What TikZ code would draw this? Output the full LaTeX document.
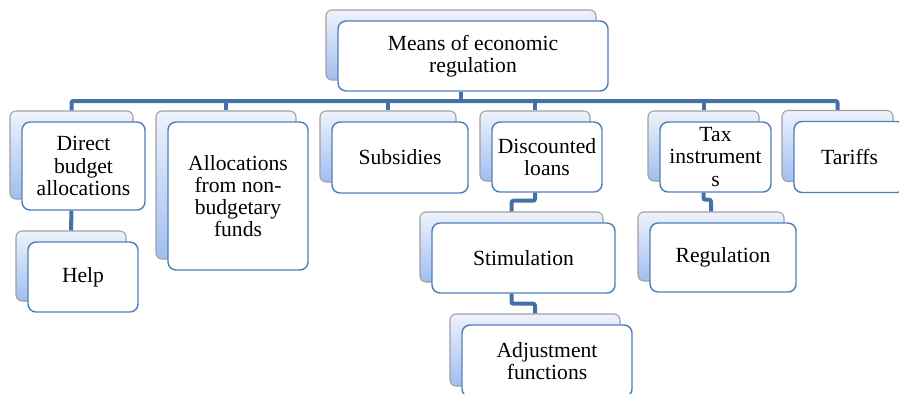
\documentclass[tikz,border=0pt]{standalone}
\usepackage{fontspec}
\setmainfont{Liberation Serif}
\newfontfamily\boxfont{Liberation Serif}
\usetikzlibrary{calc}
\definecolor{frameblue}{RGB}{79,129,189}
\definecolor{linkblue}{RGB}{68,112,166}
\definecolor{backtop}{RGB}{238,243,252}
\definecolor{backbot}{RGB}{160,190,240}
\begin{document}
\begin{tikzpicture}[x=0.75pt, y=-0.75pt,
  every node/.style={font=\boxfont\fontsize{16.2}{16.6}\selectfont, align=center, inner sep=0pt},
  boxsize/.style 2 args={minimum width=#1*0.75pt, minimum height=#2*0.75pt},
  backbox/.style={draw=gray!75, line width=0.8pt, rounded corners=4.5pt,
    top color=backtop, bottom color=backbot},
  frontbox/.style={draw=frameblue, line width=1.1pt, rounded corners=6pt, fill=white},
  link/.style={draw=linkblue, line width=3pt, rounded corners=1.5pt}]
  \useasboundingbox (0,0) rectangle (899,393);
  \clip (0,0) rectangle (899,393);
  % top
  \node[backbox, boxsize={270}{70}] (topB) at (461,45) {};
  \node[frontbox, boxsize={270}{70}] (top) at (473,56) {Means of economic\\regulation};
  % first row
  \node[backbox, boxsize={123}{88}] (dbaB) at (71.5,155) {};
  \node[frontbox, boxsize={123}{88}] (dba) at (83.5,166) {Direct\\budget\\allocations};
  \node[backbox, boxsize={140}{148}] (anfB) at (226,185) {};
  \node[frontbox, boxsize={140}{148}] (anf) at (238,196) {Allocations\\from non-\\budgetary\\funds};
  \node[backbox, boxsize={136}{71}] (subB) at (388,146.5) {};
  \node[frontbox, boxsize={136}{71}] (sub) at (400,157.5) {Subsidies};
  \node[backbox, boxsize={110}{70}] (dlB) at (535,146) {};
  \node[frontbox, boxsize={110}{70}] (dl) at (547,157) {Discounted\\loans};
  \node[backbox, boxsize={111}{70}] (tiB) at (703.5,146) {};
  \node[frontbox, boxsize={111}{70}] (ti) at (715.5,157) {Tax\\instrument\\s};
  \node[backbox, boxsize={111}{71}] (tarB) at (837.5,146) {};
  \node[frontbox, boxsize={111}{71}] (tar) at (849.5,157) {Tariffs};
  % second and third rows
  \node[backbox, boxsize={110}{70}] (helpB) at (71,266) {};
  \node[frontbox, boxsize={110}{70}] (help) at (83,277) {Help};
  \node[backbox, boxsize={183}{70}] (stimB) at (511.5,247) {};
  \node[frontbox, boxsize={183}{70}] (stim) at (523.5,258) {Stimulation};
  \node[backbox, boxsize={170}{72}] (adjB) at (535,350) {};
  \node[frontbox, boxsize={170}{72}] (adj) at (547,361) {Adjustment\\functions};
  \node[backbox, boxsize={146}{69}] (regB) at (711,246.5) {};
  \node[frontbox, boxsize={146}{69}] (reg) at (723,257.5) {Regulation};
  % connectors
  \coordinate (bus) at (0,101);
  \draw[link] (topB |- top.south) -- (topB |- bus);
  \draw[link] (dbaB.north) |- (bus -| tarB.north) -- (tarB.north);
  \foreach \b in {anfB,subB,dlB,tiB} \draw[link] (\b.north) -- (\b.north |- bus);
  \draw[link] (dbaB |- dba.south) -- (helpB.north);
  \draw[link] (dlB |- dl.south) -- ++(0,8) -| (stimB.north);
  \draw[link] (stimB |- stim.south) -- ++(0,10) -| (adjB.north);
  \draw[link] (tiB |- ti.south) -- ++(0,7) -| (regB.north);
\end{tikzpicture}
\end{document}
